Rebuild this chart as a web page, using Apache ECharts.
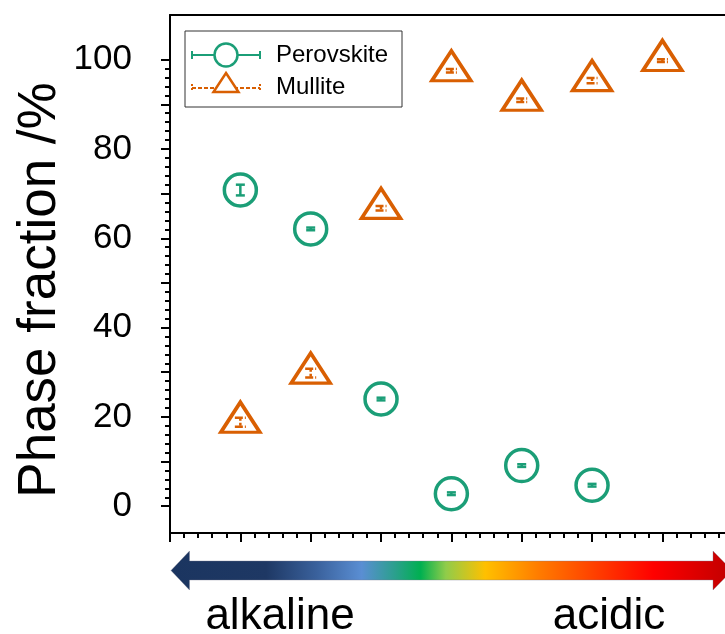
<!DOCTYPE html>
<html>
<head>
<meta charset="utf-8">
<script src="https://cdn.jsdelivr.net/npm/echarts@6/dist/echarts.min.js"></script>
<style>
  html, body { margin: 0; padding: 0; background: #fff; }
  #chart { width: 725px; height: 634px; }
</style>
</head>
<body>
<div id="chart"></div>
<script>
// Sample positions along the pH scale (alkaline -> acidic)
const samplePos = [1, 2, 3, 4, 5, 6, 7];

// Phase fractions (%) and their uncertainties
const perovskite = [70.8, 62.1, 24.0, 2.8, 9.1, 4.7];
const perovskiteErr = [1.2, 0.3, 0.3, 0.3, 0.3, 0.3];
const mullite = [18.8, 29.8, 66.7, 97.5, 90.9, 95.3, 99.8];
const mulliteErr = [1.0, 1.0, 0.5, 0.4, 0.4, 0.6, 0.3];

// Axis tick marks and labels
const yMajorTicks = [0, 10, 20, 30, 40, 50, 60, 70, 80, 90, 100];
const yLabels = [0, 20, 40, 60, 80, 100];
const yMinorTicks = [];
for (let v = 0; v <= 100; v += 2) if (v % 10 !== 0) yMinorTicks.push(v);
const xMajorTicks = [0, 1, 2, 3, 4, 5, 6, 7];
const xMinorTicks = [];
for (let i = 0; i < 40; i++) if (i % 5 !== 0) xMinorTicks.push(+(i * 0.2).toFixed(1));

const scaleLabels = ['alkaline', 'acidic'];
const seriesNames = ['Perovskite', 'Mullite'];

const GREEN = '#1b9e77';
const ORANGE = '#d95f02';
const FONT = 'Liberation Sans, Arial, sans-serif';
const X_MAX = 7.89; // the frame runs past the right edge of the page

const chart = echarts.init(document.getElementById('chart'), null, { renderer: 'canvas' });

function pairs(xs, ys, es) {
  return ys.map((v, i) => [xs[i], v, es[i]]);
}

function errorBarRenderer(capHalf, dashed, color) {
  return function (params, api) {
    const x = api.value(0), y = api.value(1), e = api.value(2);
    const top = api.coord([x, y + e]);
    const bot = api.coord([x, y - e]);
    const cx = top[0];
    const style = { stroke: color, lineWidth: 2.5, lineDash: dashed ? [8, 2] : null };
    return {
      type: 'group',
      children: [
        { type: 'line', shape: { x1: cx, y1: top[1], x2: cx, y2: bot[1] },
          style: { stroke: color, lineWidth: 2.5, lineDash: dashed ? [3, 2] : null } },
        { type: 'line', shape: { x1: cx - capHalf, y1: top[1], x2: cx + capHalf, y2: top[1] }, style: style },
        { type: 'line', shape: { x1: cx - capHalf, y1: bot[1], x2: cx + capHalf, y2: bot[1] }, style: style }
      ]
    };
  };
}

const axisLine = { show: true, onZero: false, lineStyle: { color: '#000', width: 2 } };
const noLine = { show: false, onZero: false };

const option = {
  animation: false,
  backgroundColor: '#fff',
  grid: { left: 170, top: 15, right: 0, bottom: 101, containLabel: false },
  xAxis: [
    {
      type: 'value', min: 0, max: X_MAX, position: 'bottom',
      axisLine: axisLine,
      axisTick: { show: true, inside: false, length: 9, customValues: xMajorTicks, lineStyle: { color: '#000', width: 2 } },
      axisLabel: { show: false },
      splitLine: { show: false }
    },
    {
      type: 'value', min: 0, max: X_MAX, position: 'bottom',
      axisLine: noLine,
      axisTick: { show: true, inside: false, length: 5, customValues: xMinorTicks, lineStyle: { color: '#000', width: 2 } },
      axisLabel: { show: false },
      splitLine: { show: false }
    },
    {
      type: 'value', min: 0, max: X_MAX, position: 'top',
      axisLine: axisLine,
      axisTick: { show: false },
      axisLabel: { show: false },
      splitLine: { show: false }
    }
  ],
  yAxis: [
    {
      type: 'value', min: -6, max: 110, position: 'left',
      axisLine: axisLine,
      axisTick: { show: true, inside: false, length: 9, customValues: yMajorTicks, lineStyle: { color: '#000', width: 2 } },
      axisLabel: { show: true, customValues: yLabels, margin: 38, color: '#000', fontSize: 35, fontFamily: FONT },
      splitLine: { show: false }
    },
    {
      type: 'value', min: -6, max: 110, position: 'left',
      axisLine: noLine,
      axisTick: { show: true, inside: false, length: 5, customValues: yMinorTicks, lineStyle: { color: '#000', width: 2 } },
      axisLabel: { show: false },
      splitLine: { show: false }
    }
  ],
  series: [
    {
      name: seriesNames[0], type: 'scatter', z: 2,
      data: pairs(samplePos, perovskite, perovskiteErr),
      symbol: 'circle', symbolSize: 32,
      itemStyle: { color: '#fff', borderColor: GREEN, borderWidth: 3.5, opacity: 1 }
    },
    {
      name: seriesNames[1], type: 'scatter', z: 2,
      data: pairs(samplePos, mullite, mulliteErr),
      symbol: 'triangle', symbolSize: [39, 30], symbolOffset: [0, -5],
      itemStyle: { color: '#fff', borderColor: ORANGE, borderWidth: 3.5, borderJoin: 'miter', opacity: 1 }
    },
    {
      name: seriesNames[0] + ' error', type: 'custom', z: 3,
      data: pairs(samplePos, perovskite, perovskiteErr),
      renderItem: errorBarRenderer(4.5, false, GREEN)
    },
    {
      name: seriesNames[1] + ' error', type: 'custom', z: 3,
      data: pairs(samplePos, mullite, mulliteErr),
      renderItem: errorBarRenderer(5.5, true, ORANGE)
    }
  ],
  graphic: [
    // Y axis title
    {
      type: 'text', x: 40, y: 290, rotation: Math.PI / 2,
      style: { text: 'Phase fraction /%', fontSize: 53, fontFamily: FONT, fill: '#000', align: 'center', verticalAlign: 'middle' }
    },
    // Legend box
    {
      type: 'group', x: 0, y: 0, z: 10,
      children: [
        { type: 'rect', shape: { x: 185, y: 31, width: 217, height: 76 }, style: { fill: '#fff', stroke: '#333', lineWidth: 1 } },
        { type: 'line', shape: { x1: 192, y1: 55, x2: 260, y2: 55 }, style: { stroke: GREEN, lineWidth: 2 } },
        { type: 'line', shape: { x1: 192, y1: 51, x2: 192, y2: 59 }, style: { stroke: GREEN, lineWidth: 2 } },
        { type: 'line', shape: { x1: 260, y1: 51, x2: 260, y2: 59 }, style: { stroke: GREEN, lineWidth: 2 } },
        { type: 'circle', shape: { cx: 226, cy: 55, r: 11.5 }, style: { fill: '#fff', stroke: GREEN, lineWidth: 2.5 } },
        { type: 'text', x: 276, y: 55, style: { text: seriesNames[0], fontSize: 24, fontFamily: FONT, fill: '#000', verticalAlign: 'middle' } },
        { type: 'line', shape: { x1: 192, y1: 88, x2: 260, y2: 88 }, style: { stroke: ORANGE, lineWidth: 2, lineDash: [4, 2] } },
        { type: 'line', shape: { x1: 192, y1: 84, x2: 192, y2: 92 }, style: { stroke: ORANGE, lineWidth: 2, lineDash: [2, 2] } },
        { type: 'line', shape: { x1: 260, y1: 84, x2: 260, y2: 92 }, style: { stroke: ORANGE, lineWidth: 2, lineDash: [2, 2] } },
        { type: 'polygon', shape: { points: [[226, 73], [238.5, 92], [213.5, 92]] }, style: { fill: '#fff', stroke: ORANGE, lineWidth: 2.5 } },
        { type: 'text', x: 276, y: 87, style: { text: seriesNames[1], fontSize: 24, fontFamily: FONT, fill: '#000', verticalAlign: 'middle' } }
      ]
    },
    // pH gradient arrow
    {
      type: 'polygon',
      shape: { points: [[171, 570.5], [189.5, 551], [189.5, 561], [713, 561], [713, 551], [732, 570.5], [713, 590], [713, 580], [189.5, 580], [189.5, 590]] },
      style: {
        stroke: 'rgba(120,120,140,0.6)', lineWidth: 0.6,
        fill: new echarts.graphic.LinearGradient(0, 0, 1, 0, [
          { offset: 0.0, color: '#1b3560' },
          { offset: 0.17, color: '#1e3864' },
          { offset: 0.26, color: '#3a619c' },
          { offset: 0.34, color: '#5a8ed3' },
          { offset: 0.40, color: '#2aa08c' },
          { offset: 0.445, color: '#00b050' },
          { offset: 0.49, color: '#90cc4a' },
          { offset: 0.56, color: '#ffc000' },
          { offset: 0.655, color: '#ff7c00' },
          { offset: 0.86, color: '#ff0000' },
          { offset: 1.0, color: '#c00000' }
        ])
      }
    },
    {
      type: 'text', x: 280, y: 617,
      style: { text: scaleLabels[0], fontSize: 44, fontFamily: FONT, fill: '#000', align: 'center', verticalAlign: 'middle' }
    },
    {
      type: 'text', x: 609, y: 617,
      style: { text: scaleLabels[1], fontSize: 44, fontFamily: FONT, fill: '#000', align: 'center', verticalAlign: 'middle' }
    }
  ]
};

chart.setOption(option);
</script>
</body>
</html>
